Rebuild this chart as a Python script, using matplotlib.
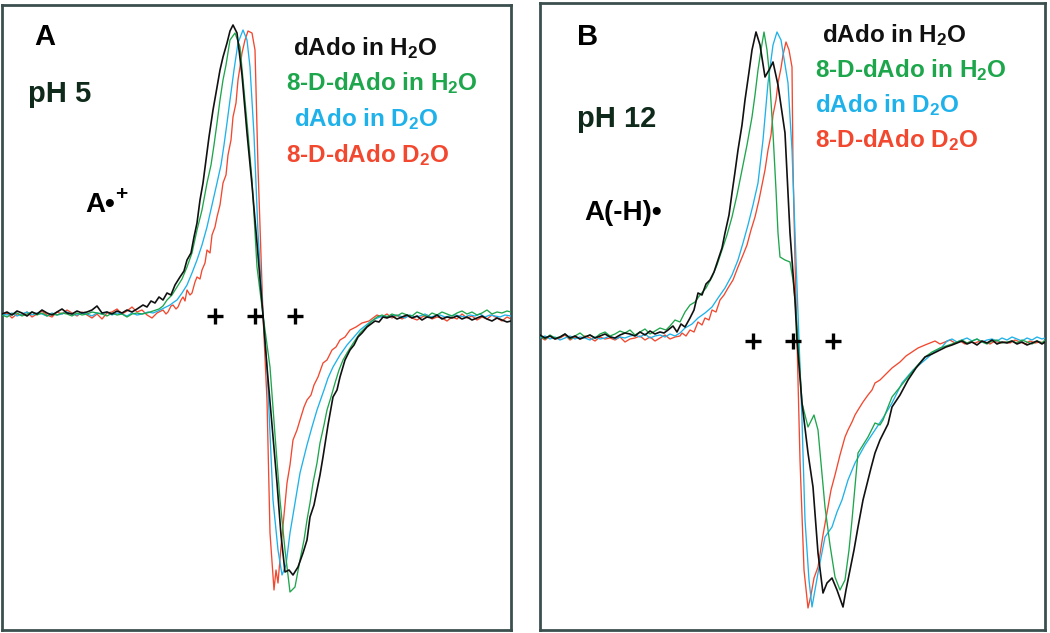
import matplotlib
matplotlib.use("Agg")
import matplotlib.pyplot as plt

plt.rcParams['font.family'] = ['Liberation Sans', 'DejaVu Sans']
plt.rcParams['font.weight'] = 'bold'
plt.rcParams['mathtext.fontset'] = 'custom'
plt.rcParams['mathtext.rm'] = 'Liberation Sans:bold'
plt.rcParams['mathtext.it'] = 'Liberation Sans:bold'
plt.rcParams['mathtext.bf'] = 'Liberation Sans:bold'

# ---------------- legend / labels ----------------
series_labels = ["dAdo in H$_2$O", "8-D-dAdo in H$_2$O", "dAdo in D$_2$O", "8-D-dAdo D$_2$O"]
series_colors = ["#111111", "#1ea64c", "#1fb2ea", "#f2482f"]
panel_letters = ["A", "B"]
panel_ph = ["pH 5", "pH 12"]
panel_species = ["A\u2022", "A(-H)\u2022"]

# hyperfine marker positions (field units) and level
plus_field = [213, 253, 293]
plus_amp = [-1, -1, -1]

# ---------------- Panel A (pH 5) spectra: field (a.u.), derivative amplitude (a.u.) ----------------
A_black_x = [0, 5, 10, 15, 20, 25, 30, 35, 40, 45, 50, 55, 60, 65, 70, 75, 80, 85, 90, 95, 100, 105, 110, 115, 120, 125, 130, 135,
             141, 145, 149, 153, 157, 161, 165, 169, 173, 178, 182, 185, 189, 192, 195, 198, 201, 204, 207, 211, 214, 218, 221, 225, 228, 231, 235, 240, 245, 250, 255, 261,
             265, 270, 275, 279, 283, 287, 291, 296, 301, 305, 308, 312, 315, 318, 321, 326, 331, 335, 338, 343, 348, 352, 356, 360, 365, 369, 373, 377, 381,
             385, 390, 395, 400, 405, 410, 415, 420, 425, 430, 435, 440, 445, 450, 455, 460, 465, 470, 475, 480, 485, 490, 495, 500, 505, 509]
A_black_y = [1, 3, 0, 4, 2, -1, 3, 1, 5, 2, 0, 3, 6, 2, 1, 4, 2, 3, 5, 9, 2, 3, 1, 4, 2, 5, 3, 6,
             10, 8, 14, 12, 18, 15, 22, 20, 30, 38, 44, 55, 62, 78, 92, 115, 132, 155, 178, 205, 222, 245, 258, 272, 284, 290, 282, 240, 182, 130, 72, 0,
             -52, -110, -168, -220, -257, -255, -260, -252, -238, -225, -202, -190, -175, -160, -142, -110, -82, -75, -62, -45, -35, -30, -22, -18, -12, -9, -6, -7, -2,
             -3, -1, -4, -2, 0, -3, -1, -5, -2, -3, 0, -4, -2, -3, -1, -4, -2, -5, -3, -1, -4, -6, -3, -5, -7, -6]

A_green_x = [0, 5, 10, 15, 20, 25, 30, 35, 40, 45, 50, 55, 60, 65, 70, 75, 80, 85, 90, 95, 100, 105, 110, 115, 120, 125, 130, 135, 140,
             145, 151, 157, 161, 165, 170, 175, 180, 185, 190, 195, 200, 205, 209, 212, 215, 218, 221, 224, 228, 233, 238, 242, 246, 250, 255, 261,
             268, 273, 278, 283, 288, 293, 298, 302, 305, 308, 311, 315, 318, 322, 325, 329, 333, 337, 341, 345, 350, 354, 358, 362, 366, 370, 375,
             380, 385, 390, 395, 400, 405, 410, 415, 420, 425, 430, 435, 440, 445, 450, 455, 460, 465, 470, 475, 480, 485, 490, 495, 500, 505, 509]
A_green_y = [0, -2, 1, 2, -1, 1, 3, 0, 2, -1, 1, 0, 2, 1, -1, 2, 0, 1, 3, 2, 1, -1, 2, 0, 1, -2, 1, 2, 1,
             2, 4, 6, 9, 15, 20, 28, 36, 48, 62, 85, 105, 132, 150, 170, 192, 215, 235, 250, 275, 282, 268, 225, 182, 135, 48, 0,
             -52, -120, -185, -235, -277, -272, -245, -225, -205, -188, -168, -148, -128, -110, -95, -82, -68, -55, -45, -38, -30, -24, -18, -14, -10, -6, -2,
             0, -2, 1, -1, 2, 0, -1, 3, 1, -2, 2, 0, 3, 1, -1, 2, 4, 1, 3, 0, 2, 5, 1, 3, 2, 4, 3]

A_blue_x = [0, 5, 10, 15, 20, 25, 30, 35, 40, 45, 50, 55, 60, 65, 70, 75, 80, 85, 90, 95, 100, 105, 110, 115, 120, 125, 130, 135, 140, 146,
            151, 156, 160, 164, 168, 172, 175, 180, 185, 190, 195, 200, 205, 210, 215, 219, 222, 225, 228, 232, 236, 241, 245, 248, 252, 256, 261,
            265, 271, 276, 280, 284, 288, 293, 298, 305, 310, 315, 322, 326, 331, 338, 345, 352, 358, 363, 368, 373, 378,
            383, 388, 393, 398, 403, 408, 413, 418, 423, 428, 433, 438, 443, 448, 453, 458, 463, 468, 473, 478, 483, 488, 493, 498, 503, 509]
A_blue_y = [1, 0, 2, -1, 1, 3, 0, 2, 1, -1, 2, 0, 1, 3, 1, 0, 2, 1, -1, 2, 1, 3, 0, 2, 1, -1, 2, 0, 1, 3,
            2, 4, 6, 8, 10, 13, 15, 22, 30, 42, 55, 70, 88, 110, 132, 150, 170, 192, 215, 245, 272, 285, 275, 248, 180, 82, 0,
            -52, -185, -235, -260, -250, -218, -188, -158, -130, -112, -95, -75, -63, -52, -40, -30, -22, -15, -11, -7, -4, -2,
            -1, -2, 0, -1, -3, 0, -2, -1, 1, -2, -1, 0, -2, -1, 0, -1, -2, 0, -1, 1, -2, 0, -1, -2, 0, -1]

A_red_x = [0, 5, 10, 15, 20, 25, 30, 35, 40, 45, 50, 55, 60, 65, 70, 75, 80, 85, 90, 95, 100, 105, 110, 115, 120, 125, 130, 135, 140, 145, 150, 155,
           161, 164, 166, 169, 171, 174, 176, 179, 181, 183, 185, 188, 190, 193, 195, 198, 200, 203, 205, 208, 210, 213, 215, 218, 221, 224, 226, 229, 231, 234, 236, 238, 240, 243, 246, 250, 253, 256, 261,
           265, 268, 272, 274, 276, 279, 282, 285, 288, 291, 295, 298, 302, 305, 309, 312, 316, 321, 325, 330, 334, 338, 343, 348, 354, 360, 367, 375,
           380, 385, 390, 395, 400, 405, 410, 415, 420, 425, 430, 435, 440, 445, 450, 455, 460, 465, 470, 475, 480, 485, 490, 495, 500, 505, 509]
A_red_y = [-1, 2, -3, 1, 0, 3, -2, 1, 4, 0, -2, 3, 1, 5, 2, -1, 3, 0, -3, 1, -4, 2, 3, 6, 1, 4, 8, 3, 5, 0, -3, 2,
           5, 1, 3, 9, 10, 6, 8, 15, 18, 14, 25, 20, 22, 33, 38, 36, 45, 52, 65, 62, 80, 88, 98, 110, 132, 140, 160, 175, 198, 212, 235, 248, 262, 275, 284, 282, 265, 148, 0,
           -85, -218, -275, -255, -268, -232, -200, -168, -150, -125, -115, -105, -92, -85, -80, -70, -62, -48, -45, -35, -32, -25, -22, -15, -12, -8, -6, 0,
           -2, 1, -3, 0, -4, -1, -3, -5, -2, 0, -4, -2, -3, -6, -2, -4, 1, -3, -1, -5, -2, -4, 0, -3, -6, -2, -4]

# ---------------- Panel B (pH 12) spectra ----------------
B_black_x = [0, 5, 10, 15, 20, 25, 30, 35, 40, 45, 50, 55, 60, 65, 70, 75, 80, 85, 90, 95, 100, 105, 110, 115, 120, 124,
             128, 133, 137, 141, 145, 150, 154, 158, 162, 166, 170, 174, 178, 182, 185, 189, 192, 195, 198, 202, 205, 209, 212, 216, 220, 225, 229, 233, 238, 245, 250, 255, 257,
             262, 268, 273, 278, 283, 287, 292, 297, 303, 306, 310, 314, 318, 323, 328, 331, 335, 340, 345, 348, 352, 360, 368, 376, 385, 392, 400, 406, 412,
             417, 422, 427, 432, 437, 442, 447, 452, 457, 462, 467, 472, 477, 482, 487, 492, 497, 502, 505]
B_black_y = [5, 2, 4, 1, 3, 6, 2, 4, 1, 3, 5, 2, 4, 6, 3, 2, 5, 7, 6, 4, 8, 5, 9, 6, 8, 7,
             10, 14, 8, 16, 13, 22, 30, 47, 45, 56, 60, 68, 80, 92, 107, 125, 147, 168, 190, 215, 240, 268, 290, 308, 295, 263, 270, 278, 255, 207, 107, 40, 0,
             -63, -113, -147, -213, -253, -243, -238, -250, -267, -250, -230, -210, -187, -160, -140, -128, -113, -100, -90, -84, -67, -55, -40, -28, -17, -14, -10, -7, -5,
             -3, -1, -4, -2, -5, -1, -3, 0, -4, -2, -3, -1, -4, -2, -5, -3, -1, -4, -2]

B_green_x = [0, 5, 10, 15, 20, 25, 30, 35, 40, 45, 50, 55, 60, 65, 70, 75, 80, 85, 90, 95, 100, 105, 110, 115, 120, 126,
             130, 135, 140, 145, 150, 155, 160, 166, 172, 177, 182, 187, 192, 197, 202, 207, 212, 215, 218, 221, 224, 227, 229, 233, 236, 238, 240, 245, 250, 253, 255, 258,
             262, 268, 274, 278, 285, 290, 295, 300, 305, 309, 312, 318, 323, 328, 335, 340, 343, 348, 352, 360, 368, 376, 385, 392, 400, 406, 412,
             417, 422, 427, 432, 437, 442, 447, 452, 457, 462, 467, 472, 477, 482, 487, 492, 497, 502, 505]
B_green_y = [4, 1, 5, 2, 3, 6, 1, 4, 7, 3, 5, 2, 6, 8, 4, 6, 9, 7, 10, 5, 8, 11, 6, 9, 12, 10,
             14, 20, 18, 28, 35, 38, 45, 52, 63, 75, 90, 105, 123, 145, 170, 195, 223, 245, 270, 290, 308, 290, 270, 207, 150, 107, 83, 80, 78, 60, 40, 0,
             -63, -87, -75, -90, -167, -205, -237, -250, -240, -210, -180, -113, -105, -97, -83, -85, -80, -67, -57, -47, -37, -27, -17, -12, -8, -6, -4,
             -2, 0, -3, -1, 1, -2, -4, -1, 0, -3, -2, -1, -3, 0, -2, -4, -1, -3, 0]

B_blue_x = [0, 5, 10, 15, 20, 25, 30, 35, 40, 45, 50, 55, 60, 65, 70, 75, 80, 85, 90, 95, 100, 105, 110, 115, 120, 125, 130, 135, 140,
            145, 152, 158, 165, 172, 178, 185, 192, 198, 203, 208, 213, 218, 223, 228, 233, 237, 241, 248, 252, 255, 259,
            262, 265, 269, 272, 278, 285, 292, 297, 302, 308, 315, 325, 335, 343, 352, 362, 373, 385, 394, 402,
            407, 412, 417, 422, 427, 432, 437, 442, 447, 452, 457, 462, 467, 472, 477, 482, 487, 492, 497, 502, 505]
B_blue_y = [2, 4, 1, 3, 0, 2, 4, 1, 3, 2, 0, 3, 1, 2, 4, 1, 3, 2, 4, 5, 3, 6, 2, 4, 5, 3, 6, 4, 7,
            12, 16, 22, 27, 33, 42, 52, 65, 80, 97, 115, 135, 157, 200, 257, 295, 308, 300, 257, 190, 107, 0,
            -80, -180, -240, -267, -233, -197, -187, -172, -160, -140, -123, -105, -90, -78, -63, -43, -30, -20, -12, -7,
            -1, 1, -2, 0, 2, -1, 1, -2, 0, 1, -1, 2, 0, 3, 1, -1, 2, 0, 3, 1, 2]

B_red_x = [0, 5, 10, 15, 20, 25, 30, 35, 40, 45, 50, 55, 60, 65, 70, 75, 80, 85, 90, 95, 100, 105, 110, 115, 120, 125, 130, 135, 140,
           142, 146, 150, 154, 158, 162, 165, 169, 172, 176, 180, 184, 188, 193, 198, 203, 207, 211, 215, 219, 222, 225, 228, 231, 233, 236, 238, 241, 243, 246, 249, 252, 253, 255, 257,
           260, 264, 268, 271, 274, 278, 283, 288, 291, 295, 300, 305, 308, 312, 315, 318, 323, 328, 332, 335, 340, 345, 352, 360, 366, 372, 378, 385,
           390, 395, 400, 405, 410, 415, 420, 425, 430, 435, 440, 445, 450, 455, 460, 465, 470, 475, 480, 485, 490, 495, 500, 505]
B_red_y = [3, 0, 4, 1, 2, 5, 0, 3, 1, 4, 2, -1, 3, 1, 2, 0, 3, -2, 1, 2, 4, 0, 3, -1, 2, 5, 1, 3, 4,
           7, 4, 10, 8, 18, 15, 22, 20, 30, 28, 40, 45, 52, 60, 73, 85, 95, 110, 123, 140, 155, 170, 190, 205, 225, 240, 257, 272, 285, 298, 290, 273, 173, 80, 0,
           -120, -230, -268, -255, -238, -227, -195, -167, -150, -135, -115, -97, -90, -82, -75, -70, -62, -55, -50, -43, -40, -35, -28, -22, -16, -12, -8, -5,
           -3, -1, -4, -2, 0, -3, -1, -4, -2, -3, -1, -2, -4, -1, -3, -2, -3, 0, -2, -4, -1, -3, -2, -3]

panel_A = [(A_black_x, A_black_y), (A_green_x, A_green_y), (A_blue_x, A_blue_y), (A_red_x, A_red_y)]
panel_B = [(B_black_x, B_black_y), (B_green_x, B_green_y), (B_blue_x, B_blue_y), (B_red_x, B_red_y)]

W, H = 1050, 633
fig = plt.figure(figsize=(W / 100, H / 100), dpi=100)
fig.patch.set_facecolor("white")


def fx(px):
    return px / W


def fy(py):
    return 1 - py / H


spine_color = "#3c4f4f"
axA = fig.add_axes([fx(2), fy(630), (511 - 2) / W, (630 - 5) / H])
axB = fig.add_axes([fx(540), fy(630), (1045 - 540) / W, (630 - 3) / H])
axA.set_xlim(0, 509)
axA.set_ylim(-315, 310)
axB.set_xlim(0, 505)
axB.set_ylim(-290, 337)

for ax, data in ((axA, panel_A), (axB, panel_B)):
    ax.set_xticks([])
    ax.set_yticks([])
    for s in ax.spines.values():
        s.set_color(spine_color)
        s.set_linewidth(2.0)
    # draw order: red, blue, green, black (black on top)
    for idx in (3, 2, 1, 0):
        xs, ys = data[idx]
        n = min(len(xs), len(ys))
        ax.plot(xs[:n], ys[:n], color=series_colors[idx], lw=1.2 if idx == 0 else 0.95, zorder=2 + (3 - idx))
    ax.plot(plus_field, plus_amp, linestyle="none", marker="+", ms=12, mew=2.4, color="black", zorder=10)

# Panel letters
fig.text(fx(34), fy(45), panel_letters[0], fontsize=21, color="black", va="baseline")
fig.text(fx(577), fy(45), panel_letters[1], fontsize=21, color="black", va="baseline")
# pH labels
ph_color = "#0f2a1a"
fig.text(fx(28), fy(102), panel_ph[0], fontsize=21, color=ph_color, va="baseline")
fig.text(fx(577), fy(127), panel_ph[1], fontsize=21, color=ph_color, va="baseline")
# species labels
fig.text(fx(85), fy(212), panel_species[0], fontsize=20, color="black", va="baseline")
fig.text(fx(115), fy(200), "+", fontsize=15, color="black", va="baseline")
fig.text(fx(584), fy(220), panel_species[1], fontsize=20, color="black", va="baseline")

# legends
legA_x = [293, 286, 294, 286]
legA_y = [55, 90, 126, 162]
legB_x = [822, 815, 815, 815]
legB_y = [42, 77, 112, 147]
for i in range(4):
    fig.text(fx(legA_x[i]), fy(legA_y[i]), series_labels[i], fontsize=17.5, color=series_colors[i], va="baseline")
    fig.text(fx(legB_x[i]), fy(legB_y[i]), series_labels[i], fontsize=17.5, color=series_colors[i], va="baseline")

fig.savefig("out.png", dpi=100, facecolor="white")
